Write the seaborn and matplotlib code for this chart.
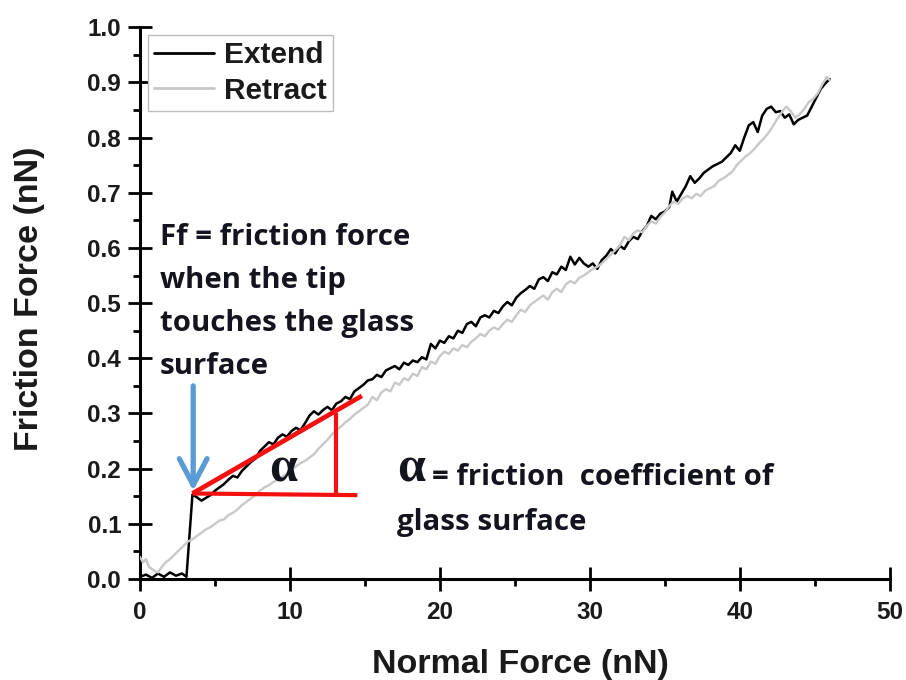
import numpy as np
import pandas as pd
import seaborn as sns
import matplotlib.pyplot as plt
from matplotlib.ticker import MultipleLocator

# Friction force vs normal force, AFM tip on glass (extend and retract curves)
extend_x = [0.0, 0.4, 0.8, 1.2, 1.6, 2.0, 2.4, 2.8, 3.1, 3.5, 3.8, 4.1, 4.4, 4.7, 5.0, 5.3,
            5.6, 5.9, 6.2, 6.5, 6.8, 7.1, 7.4, 7.7, 8.0, 8.3, 8.6, 8.9, 9.2, 9.5, 9.8, 10.1,
            10.4, 10.7, 11.0, 11.3, 11.6, 11.9, 12.2, 12.5, 12.8, 13.1, 13.4, 13.7, 14.0, 14.3,
            14.6, 14.9, 15.2, 15.5, 15.8, 16.1, 16.4, 16.7, 17.0, 17.3, 17.6, 17.9, 18.2, 18.5,
            18.8, 19.1, 19.4, 19.7, 20.0, 20.3, 20.6, 20.9, 21.2, 21.5, 21.8, 22.1, 22.4, 22.7,
            23.0, 23.3, 23.6, 23.9, 24.2, 24.5, 24.8, 25.1, 25.4, 25.7, 26.0, 26.3, 26.6, 26.9,
            27.2, 27.5, 27.8, 28.1, 28.4, 28.7, 29.0, 29.3, 29.6, 29.9, 30.2, 30.5, 30.8, 31.1,
            31.4, 31.7, 32.0, 32.3, 32.6, 32.9, 33.2, 33.5, 33.8, 34.1, 34.4, 34.7, 35.0, 35.3,
            35.5, 35.8, 36.1, 36.4, 36.7, 37.0, 37.3, 37.6, 37.9, 38.2, 38.5, 38.8, 39.1, 39.4,
            39.7, 40.0, 40.3, 40.6, 40.9, 41.2, 41.5, 41.8, 42.1, 42.4, 42.7, 43.0, 43.3, 43.6,
            43.9, 44.2, 44.5, 44.8, 45.1, 45.4, 45.7, 46.0]
extend_y = [0.004, 0.008, 0.002, 0.010, 0.004, 0.012, 0.006, 0.010, 0.004, 0.153, 0.148, 0.142,
            0.147, 0.152, 0.160, 0.166, 0.172, 0.180, 0.187, 0.184, 0.196, 0.204, 0.212, 0.218,
            0.232, 0.240, 0.248, 0.244, 0.256, 0.262, 0.258, 0.268, 0.274, 0.270, 0.282, 0.296,
            0.304, 0.298, 0.306, 0.312, 0.306, 0.318, 0.322, 0.330, 0.326, 0.340, 0.346, 0.352,
            0.360, 0.362, 0.370, 0.366, 0.378, 0.382, 0.386, 0.380, 0.392, 0.388, 0.396, 0.393,
            0.402, 0.398, 0.426, 0.418, 0.432, 0.428, 0.440, 0.436, 0.450, 0.446, 0.462, 0.466,
            0.458, 0.474, 0.478, 0.474, 0.486, 0.482, 0.494, 0.502, 0.496, 0.510, 0.518, 0.524,
            0.531, 0.526, 0.543, 0.547, 0.540, 0.556, 0.552, 0.566, 0.560, 0.584, 0.570, 0.582,
            0.572, 0.566, 0.572, 0.562, 0.578, 0.586, 0.598, 0.590, 0.604, 0.598, 0.612, 0.620,
            0.616, 0.630, 0.640, 0.658, 0.652, 0.662, 0.666, 0.674, 0.702, 0.684, 0.698, 0.712,
            0.730, 0.718, 0.726, 0.736, 0.742, 0.748, 0.752, 0.756, 0.764, 0.772, 0.786, 0.776,
            0.800, 0.822, 0.828, 0.810, 0.840, 0.852, 0.856, 0.846, 0.848, 0.836, 0.842, 0.824,
            0.832, 0.836, 0.840, 0.856, 0.872, 0.888, 0.898, 0.906]

retract_x = [0.0, 0.2, 0.4, 0.6, 0.8, 1.0, 1.2, 1.4, 1.7, 2.0, 2.3, 2.6, 2.9, 3.2, 3.5, 3.8,
             4.1, 4.4, 4.7, 5.0, 5.3, 5.6, 5.9, 6.2, 6.5, 6.8, 7.1, 7.4, 7.7, 8.0, 8.3, 8.6,
             8.9, 9.2, 9.5, 9.8, 10.1, 10.4, 10.7, 11.0, 11.3, 11.6, 11.9, 12.2, 12.5, 12.8,
             13.1, 13.4, 13.7, 14.0, 14.3, 14.6, 14.9, 15.2, 15.5, 15.8, 16.1, 16.4, 16.7, 17.0,
             17.3, 17.6, 17.9, 18.2, 18.5, 18.8, 19.1, 19.4, 19.7, 20.0, 20.3, 20.6, 20.9, 21.2,
             21.5, 21.8, 22.1, 22.4, 22.7, 23.0, 23.3, 23.6, 23.9, 24.2, 24.5, 24.8, 25.1, 25.4,
             25.7, 26.0, 26.3, 26.6, 26.9, 27.2, 27.5, 27.8, 28.1, 28.4, 28.7, 29.0, 29.3, 29.6,
             29.9, 30.2, 30.5, 30.8, 31.1, 31.4, 31.7, 32.0, 32.3, 32.6, 32.9, 33.2, 33.5, 33.8,
             34.1, 34.4, 34.7, 35.0, 35.3, 35.6, 35.9, 36.2, 36.5, 36.8, 37.1, 37.4, 37.7, 38.0,
             38.3, 38.6, 38.9, 39.2, 39.5, 39.8, 40.1, 40.4, 40.7, 41.0, 41.3, 41.6, 41.9, 42.2,
             42.5, 42.8, 43.1, 43.4, 43.7, 44.0, 44.3, 44.6, 44.9, 45.2, 45.5, 45.8, 46.0]
retract_y = [0.040, 0.030, 0.036, 0.022, 0.018, 0.014, 0.012, 0.020, 0.030, 0.036, 0.044, 0.052,
             0.060, 0.068, 0.072, 0.078, 0.084, 0.090, 0.094, 0.100, 0.106, 0.108, 0.116, 0.120,
             0.126, 0.134, 0.140, 0.146, 0.152, 0.160, 0.166, 0.170, 0.176, 0.180, 0.186, 0.190,
             0.198, 0.204, 0.210, 0.214, 0.220, 0.226, 0.236, 0.244, 0.252, 0.262, 0.270, 0.276,
             0.284, 0.290, 0.298, 0.304, 0.310, 0.316, 0.330, 0.324, 0.338, 0.344, 0.340, 0.356,
             0.352, 0.364, 0.360, 0.372, 0.368, 0.384, 0.380, 0.394, 0.390, 0.404, 0.412, 0.408,
             0.418, 0.414, 0.424, 0.420, 0.430, 0.436, 0.444, 0.440, 0.450, 0.456, 0.452, 0.462,
             0.470, 0.466, 0.478, 0.488, 0.484, 0.496, 0.502, 0.508, 0.514, 0.506, 0.520, 0.526,
             0.520, 0.534, 0.540, 0.536, 0.546, 0.550, 0.556, 0.562, 0.566, 0.572, 0.580, 0.588,
             0.596, 0.604, 0.620, 0.614, 0.626, 0.632, 0.628, 0.640, 0.648, 0.644, 0.656, 0.664,
             0.676, 0.684, 0.680, 0.690, 0.694, 0.690, 0.698, 0.694, 0.704, 0.708, 0.712, 0.722,
             0.726, 0.732, 0.738, 0.750, 0.758, 0.766, 0.772, 0.780, 0.790, 0.798, 0.808, 0.820,
             0.834, 0.846, 0.856, 0.848, 0.836, 0.842, 0.852, 0.864, 0.870, 0.880, 0.896, 0.910,
             0.904]

x_ticks = [0, 10, 20, 30, 40, 50]
y_ticks = [0.0, 0.1, 0.2, 0.3, 0.4, 0.5, 0.6, 0.7, 0.8, 0.9, 1.0]

# Slope construction: contact point, end of the tangent, end of the base, vertical leg
contact_pt = (3.5, 0.155)
tangent_end = (14.8, 0.332)
base_end = (14.5, 0.152)
leg_x = 13.1
leg_top = 0.300

ff_lines = ["Ff = friction force", "when the tip", "touches the glass", "surface"]
ff_baselines = [0.605, 0.527, 0.449, 0.371]

sns.set_theme(style="white")
plt.rcParams["font.family"] = ["Liberation Sans", "DejaVu Sans"]

extend_df = pd.DataFrame({"Normal Force (nN)": extend_x, "Friction Force (nN)": extend_y})
retract_df = pd.DataFrame({"Normal Force (nN)": retract_x, "Friction Force (nN)": retract_y})

fig = plt.figure(figsize=(9.06, 6.80), dpi=100)
ax = fig.add_axes([0.1545, 0.1485, 0.8275, 0.8115])

sns.lineplot(data=extend_df, x="Normal Force (nN)", y="Friction Force (nN)", ax=ax,
             color="black", lw=1.8, sort=False, estimator=None, label="Extend", zorder=3)
sns.lineplot(data=retract_df, x="Normal Force (nN)", y="Friction Force (nN)", ax=ax,
             color="#c8c8c8", lw=1.7, sort=False, estimator=None, label="Retract", zorder=4)

ax.set_xlim(0, 50)
ax.set_ylim(0, 1.0)
ax.set_xticks(x_ticks)
ax.set_yticks(y_ticks)
ax.set_xticklabels([str(v) for v in x_ticks])
ax.set_yticklabels([f"{v:.1f}" for v in y_ticks])
ax.xaxis.set_minor_locator(MultipleLocator(5))
ax.yaxis.set_minor_locator(MultipleLocator(0.05))

for side in ["top", "right"]:
    ax.spines[side].set_visible(False)
for side in ["left", "bottom"]:
    ax.spines[side].set_linewidth(2.2)
    ax.spines[side].set_color("black")

ax.tick_params(which="major", direction="inout", length=17, width=2.0, color="black",
               labelsize=17.5, bottom=True, left=True)
ax.tick_params(which="minor", direction="out", length=5, width=2.0, color="black",
               bottom=True, left=True)
ax.tick_params(axis="y", which="major", pad=5)
ax.tick_params(axis="x", which="major", pad=7)
for lab in ax.get_xticklabels() + ax.get_yticklabels():
    lab.set_fontweight("bold")
    lab.set_color("#1a1a1a")

ax.set_xlabel("Normal Force (nN)", fontsize=24.5, fontweight="bold", color="#1a1a1a")
ax.set_ylabel("Friction Force (nN)", fontsize=24.5, fontweight="bold", color="#1a1a1a")
ax.xaxis.set_label_coords(0.507, -0.126)
ax.yaxis.set_label_coords(-0.127, 0.507)

leg = ax.legend(loc="upper left", bbox_to_anchor=(0.0107, 0.9855), borderaxespad=0,
                frameon=True, fancybox=False, edgecolor="#bdbdbd", framealpha=1,
                prop={"family": "Liberation Sans", "weight": "bold", "size": 21.5},
                handlelength=2.0, handletextpad=0.35, borderpad=0.2, labelspacing=0.25)
leg.get_frame().set_linewidth(1.0)
for line in leg.get_lines():
    line.set_linewidth(2.0)
for t in leg.get_texts():
    t.set_color("#1a1a1a")

# Red slope triangle
red = "#f51010"
ax.plot([contact_pt[0], tangent_end[0]], [contact_pt[1], tangent_end[1]], color=red, lw=3.4,
        solid_capstyle="butt", zorder=6)
ax.plot([contact_pt[0], base_end[0]], [contact_pt[1], base_end[1]], color=red, lw=3.0,
        solid_capstyle="butt", zorder=6)
ax.plot([leg_x, leg_x], [base_end[1], leg_top], color=red, lw=3.0,
        solid_capstyle="butt", zorder=6)

# Blue arrow marking the contact point
ax.annotate("", xy=(3.55, 0.160), xytext=(3.55, 0.350),
            arrowprops=dict(arrowstyle="->, head_length=0.95, head_width=0.5",
                            color="#5b9bd5", lw=3.8, mutation_scale=20,
                            shrinkA=0, shrinkB=0), zorder=7)

text_color = "#14141e"
note_font = {"family": "Open Sans", "weight": "bold", "size": 21.2}
for line, yb in zip(ff_lines, ff_baselines):
    ax.text(1.33, yb, line, fontdict=note_font, color=text_color,
            ha="left", va="baseline", zorder=8)

ax.text(9.55, 0.176, "α", fontsize=36, fontweight="bold", family="Liberation Serif",
        color=text_color, ha="center", va="baseline", zorder=8)
ax.text(18.1, 0.176, "α", fontsize=36, fontweight="bold", family="Liberation Serif",
        color=text_color, ha="center", va="baseline", zorder=8)
ax.text(19.5, 0.170, "= friction  coefficient of", fontdict=note_font, color=text_color,
        ha="left", va="baseline", zorder=8)
ax.text(17.13, 0.089, "glass surface", fontdict=note_font, color=text_color,
        ha="left", va="baseline", zorder=8)

fig.savefig("out.png", dpi=100)
